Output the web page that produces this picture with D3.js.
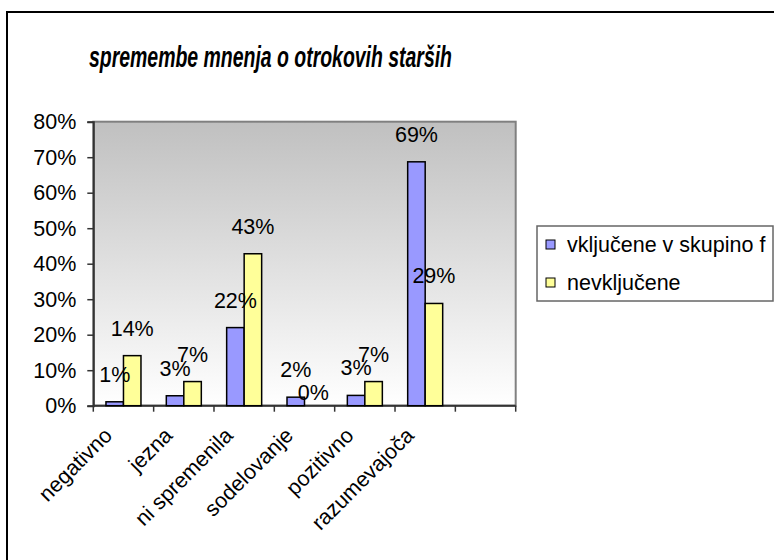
<!DOCTYPE html>
<html>
<head>
<meta charset="utf-8">
<script src="https://cdn.jsdelivr.net/npm/d3@7"></script>
<style>
  body { margin: 0; background: #fff; }
  text { font-family: Arial, "Liberation Sans", sans-serif; fill: #000; }
</style>
</head>
<body>
<div class="chart"></div>
<script>
// chart data
const categories = ['negativno', 'jezna', 'ni spremenila', 'sodelovanje', 'pozitivno', 'razumevajoča', ''];
const seriesNames = ['vključene v skupino f', 'nevključene'];
const vkljucene = [0.011, 0.028, 0.22, 0.024, 0.029, 0.687];
const nevkljucene = [0.141, 0.068, 0.428, 0, 0.068, 0.288];
const yTicks = [0, 0.1, 0.2, 0.3, 0.4, 0.5, 0.6, 0.7, 0.8];
const colors = ['#9999ff', '#ffff99'];

const width = 774;
const height = 560;
const plot = { left: 93.3, right: 515.7, top: 121.7, bottom: 405.7 };
const fontSize = '21.5px';

const svg = d3.select('.chart')
  .append('svg')
    .attr('width', width)
    .attr('height', height);

// gradient for plot area
const grad = svg.append('defs')
  .append('linearGradient')
    .attr('id', 'bg')
    .attr('x1', 0).attr('y1', 0)
    .attr('x2', 0).attr('y2', 1);
grad.append('stop').attr('offset', '0%').attr('stop-color', '#c0c0c0');
grad.append('stop').attr('offset', '100%').attr('stop-color', '#ffffff');

// outer frame (cut off at right and bottom like the original)
svg.append('rect')
  .attr('x', 7)
  .attr('y', 12)
  .attr('width', 800)
  .attr('height', 600)
  .attr('fill', '#fff')
  .attr('stroke', '#000')
  .attr('stroke-width', 2);

svg.append('text')
  .attr('x', 270.5)
  .attr('y', 67)
  .attr('text-anchor', 'middle')
  .attr('textLength', 363)
  .attr('lengthAdjust', 'spacingAndGlyphs')
  .style('font-size', '30px')
  .style('font-weight', 'bold')
  .style('font-style', 'italic')
  .text('spremembe mnenja o otrokovih starših');

// scales
const xScale = d3.scaleBand()
  .domain(categories)
  .range([plot.left, plot.right]);

const yScale = d3.scaleLinear()
  .domain([0, 0.8])
  .range([plot.bottom, plot.top]);

const barW = 17.5;
const xSub = d3.scaleBand()
  .domain(seriesNames)
  .range([xScale.bandwidth() / 2 - barW, xScale.bandwidth() / 2 + barW]);

// plot background
svg.append('rect')
  .attr('x', plot.left)
  .attr('y', plot.top)
  .attr('width', plot.right - plot.left)
  .attr('height', plot.bottom - plot.top)
  .attr('fill', 'url(#bg)')
  .attr('stroke', '#808080')
  .attr('stroke-width', 2);

// y axis
const yAxis = d3.axisLeft(yScale)
  .tickValues(yTicks)
  .tickFormat(d3.format('.0%'))
  .tickSize(6)
  .tickPadding(11);

svg.append('g')
  .attr('transform', `translate(${plot.left},0)`)
  .call(yAxis)
  .call(g => g.select('.domain').attr('stroke', '#333').attr('stroke-width', 2))
  .call(g => g.selectAll('line').attr('stroke', '#333').attr('stroke-width', 1.5))
  .call(g => g.selectAll('text')
    .style('font-size', fontSize)
    .style('font-family', 'Arial, "Liberation Sans", sans-serif'));

// x axis with ticks between categories
const xAxisG = svg.append('g')
  .attr('transform', `translate(0,${plot.bottom})`);

xAxisG.append('line')
  .attr('x1', plot.left)
  .attr('x2', plot.right)
  .attr('stroke', '#333')
  .attr('stroke-width', 2);

xAxisG.selectAll('line.tick')
  .data(categories.concat(['end']))
  .enter()
  .append('line')
    .attr('class', 'tick')
    .attr('x1', (d, i) => i < categories.length ? xScale(d) : plot.right)
    .attr('x2', (d, i) => i < categories.length ? xScale(d) : plot.right)
    .attr('y1', 0)
    .attr('y2', 6)
    .attr('stroke', '#333')
    .attr('stroke-width', 1.5);

xAxisG.selectAll('text')
  .data(categories)
  .enter()
  .append('text')
    .attr('transform', d => `translate(${xScale(d) + xScale.bandwidth() / 2 - 10},31) rotate(-45)`)
    .attr('text-anchor', 'end')
    .style('font-size', fontSize)
    .text(d => d);

// bars
const rows = categories.slice(0, vkljucene.length).map((c, i) => ({
  cat: c,
  values: [vkljucene[i], nevkljucene[i]]
}));

const groups = svg.selectAll('g.grp')
  .data(rows)
  .enter()
  .append('g')
    .attr('class', 'grp')
    .attr('transform', d => `translate(${xScale(d.cat)},0)`);

groups.selectAll('rect')
  .data(d => d.values.map((v, k) => ({ name: seriesNames[k], v: v, k: k })))
  .enter()
  .append('rect')
    .attr('x', d => xSub(d.name))
    .attr('y', d => yScale(d.v))
    .attr('width', xSub.bandwidth())
    .attr('height', d => plot.bottom - yScale(d.v))
    .attr('fill', d => colors[d.k])
    .attr('stroke', '#000')
    .attr('stroke-width', 1.5)
    .attr('display', d => d.v > 0 ? null : 'none');

groups.selectAll('text')
  .data(d => d.values.map((v, k) => ({ name: seriesNames[k], v: v })))
  .enter()
  .append('text')
    .attr('x', d => xSub(d.name) + xSub.bandwidth() / 2)
    .attr('y', d => d.v > 0 ? yScale(d.v) - 20 : plot.bottom - 6)
    .attr('text-anchor', 'middle')
    .style('font-size', fontSize)
    .text(d => Math.round(d.v * 100) + '%');

// legend
const legend = svg.append('g')
  .attr('transform', 'translate(537,226)');

legend.append('rect')
  .attr('width', 236)
  .attr('height', 75)
  .attr('fill', '#fff')
  .attr('stroke', '#666')
  .attr('stroke-width', 1.5);

const items = legend.selectAll('g.item')
  .data(seriesNames)
  .enter()
  .append('g')
    .attr('class', 'item')
    .attr('transform', (d, i) => `translate(9,${14 + i * 38})`);

items.append('rect')
  .attr('width', 9)
  .attr('height', 9)
  .attr('fill', (d, i) => colors[i])
  .attr('stroke', '#000')
  .attr('stroke-width', 1);

items.append('text')
  .attr('x', 21)
  .attr('y', 12)
  .style('font-size', fontSize)
  .text(d => d);
</script>
</body>
</html>
